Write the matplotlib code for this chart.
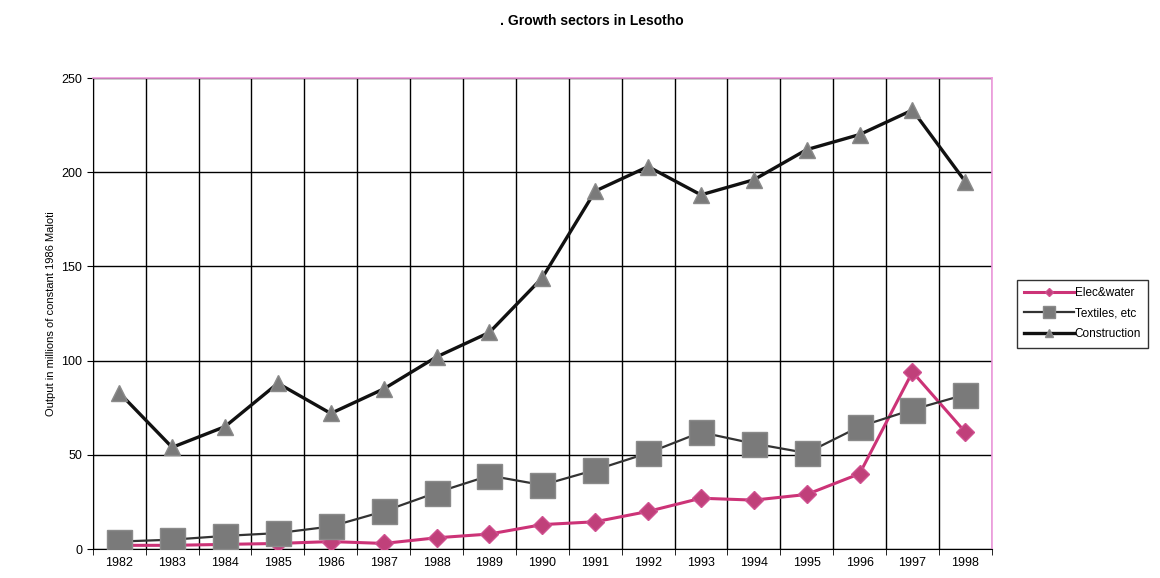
import numpy as np
import matplotlib
matplotlib.use("Agg")
import matplotlib.pyplot as plt

plt.rcParams['font.family'] = ['Liberation Sans', 'DejaVu Sans']

# output in millions of constant 1986 Maloti
years = [str(y) for y in range(1982, 1999)]
elec_water = [2, 2, 2.5, 3, 4, 3, 6, 8, 13, 14.5, 20, 27, 26, 29, 40, 94, 62]
textiles = [4, 5, 7, 8.5, 12, 20, 30, 39, 34, 42, 51, 62, 56, 51, 65, 74, 82]
construction = [83, 54, 65, 88, 72, 85, 102, 115, 144, 190, 203, 188, 196, 212, 220, 233, 195]

fig = plt.figure(figsize=(11.6, 5.78), dpi=100)
ax = fig.add_axes([0.080, 0.050, 0.775, 0.815])

x = np.arange(len(years))

ax.plot(x, elec_water, color='#cc3377', lw=2.2, marker='D', ms=9,
        mfc='#c0407a', mec='#d05090', label='Elec&water', zorder=3)
ax.plot(x, textiles, color='#333333', lw=1.6, marker='s', ms=18,
        mfc='#7a7a7a', mec='#8a8a8a', label='Textiles, etc', zorder=4)
ax.plot(x, construction, color='#111111', lw=2.4, marker='^', ms=12,
        mfc='#7a7a7a', mec='#8a8a8a', label='Construction', zorder=3)

ax.set_xlim(-0.5, len(years) - 0.5)
ax.set_ylim(0, 250)
ax.set_yticks(range(0, 251, 50))
ax.set_xticks(x)
ax.set_xticklabels(years)
# vertical grid sits between the categories
ax.set_xticks(np.arange(-0.5, len(years), 1), minor=True)
ax.grid(which='minor', axis='x', color='black', lw=1.0)
ax.grid(which='major', axis='y', color='black', lw=1.0)
ax.tick_params(axis='x', which='major', length=0, labelsize=9, pad=6)
ax.tick_params(axis='x', which='minor', length=4, direction='out')
ax.tick_params(axis='y', labelsize=9, length=4, direction='out')
ax.set_axisbelow(True)

for side in ['top', 'right']:
    ax.spines[side].set_color('#ee99dd')
    ax.spines[side].set_linewidth(1.2)
for side in ['left', 'bottom']:
    ax.spines[side].set_color('black')

ax.set_ylabel('Output in millions of constant 1986 Maloti', fontsize=8)
fig.text(0.51, 0.975, '. Growth sectors in Lesotho', ha='center', va='top',
         fontsize=10, fontweight='bold')

leg = ax.legend(loc='center left', bbox_to_anchor=(1.02, 0.5), fontsize=8.5,
                frameon=True, fancybox=False, edgecolor='black',
                markerscale=0.5, handlelength=4.2, borderpad=0.6,
                labelspacing=0.75, handletextpad=0.1, borderaxespad=0.6)
leg.get_frame().set_linewidth(1.0)

fig.savefig('out.png', dpi=100, facecolor='white')
